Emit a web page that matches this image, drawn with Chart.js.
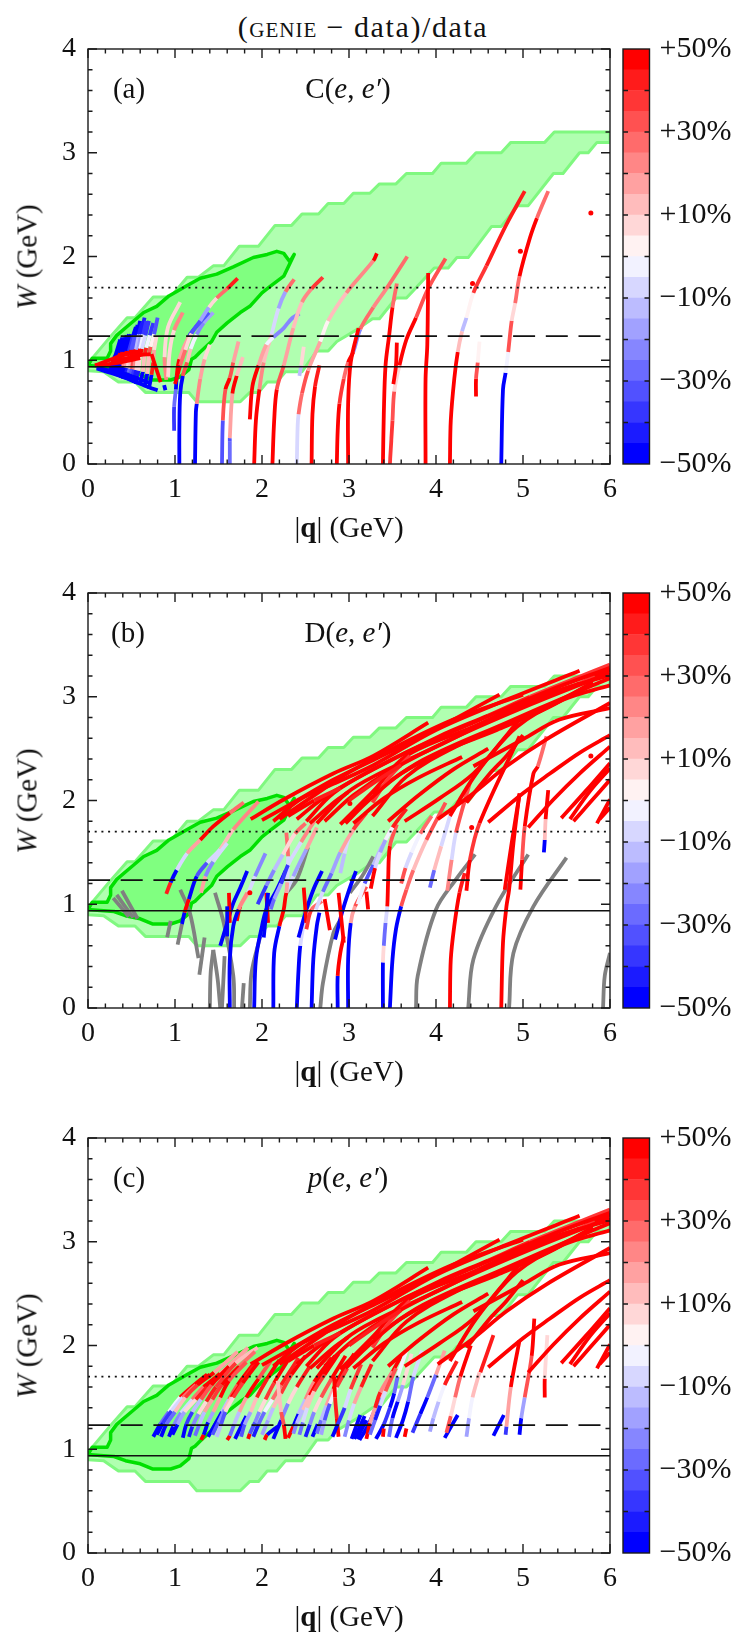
<!DOCTYPE html>
<html>
<head>
<meta charset="utf-8">
<style>
  html, body { margin: 0; padding: 0; background: #fff; }
  #page { position: relative; width: 746px; height: 1641px; overflow: hidden; }
  canvas { position: absolute; left: 0; }
  .t { position: absolute; transform: translate(-50%, -50%); white-space: nowrap; color: #111;
       font-family: "Liberation Serif", serif; font-size: 29px; line-height: 1; }
  .rot { transform: translate(-50%, -50%) rotate(-90deg); }
  .sc { font-variant: small-caps; letter-spacing: 1px; }
</style>
</head>
<body>
<div id="page">
  <div class="t" style="left:363px;top:27px;font-size:30px;letter-spacing:1.6px">(<span class="sc">genie</span> − data)/data</div>
</div>
<script src="https://cdn.jsdelivr.net/npm/chart.js@4"></script>
<script>
// |q| and W tick values
var xTicks = [0, 1, 2, 3, 4, 5, 6];
var yTicks = [0, 1, 2, 3, 4];
var xMinor = [0.2, 0.4, 0.6, 0.8, 1.2, 1.4, 1.6, 1.8, 2.2, 2.4, 2.6, 2.8, 3.2, 3.4, 3.6, 3.8, 4.2, 4.4, 4.6, 4.8, 5.2, 5.4, 5.6, 5.8];
var yMinor = [0.2, 0.4, 0.6, 0.8, 1.2, 1.4, 1.6, 1.8, 2.2, 2.4, 2.6, 2.8, 3.2, 3.4, 3.6, 3.8];

// resonance lines
var nucleonW = 0.938, deltaW = 1.232, highW = 1.7;

// colour bar
var barBands = [-50, -45, -40, -35, -30, -25, -20, -15, -10, -5, 0, 5, 10, 15, 20, 25, 30, 35, 40, 45];
var barLabels = { '50': '+50%', '30': '+30%', '10': '+10%', '-10': '−10%', '-30': '−30%', '-50': '−50%' };

// kinematic coverage, outer and inner region [q, W]
var outerRegion = [[0,0.97],[0.26,1.23],[0.45,1.41],[0.54,1.41],[0.75,1.61],[0.95,1.61],[1.14,1.8],[1.27,1.8],[1.44,1.91],[1.56,1.91],[1.74,2.1],[1.96,2.1],[2.15,2.3],[2.34,2.3],[2.46,2.41],[2.65,2.41],[2.76,2.51],[2.94,2.51],[3.05,2.61],[3.24,2.61],[3.35,2.7],[3.54,2.7],[3.66,2.8],[3.96,2.8],[4.06,2.9],[4.35,2.9],[4.46,3.0],[4.75,3.0],[4.86,3.1],[5.25,3.1],[5.36,3.2],[6,3.2],[6,3.1],[5.85,3.1],[5.75,3.0],[5.65,3.0],[5.46,2.8],[5.35,2.8],[5.06,2.49],[4.94,2.49],[4.75,2.29],[4.64,2.29],[4.37,1.99],[4.24,1.99],[4.14,1.89],[3.98,1.89],[3.76,1.69],[3.66,1.6],[3.54,1.6],[3.35,1.4],[3.27,1.4],[3.1,1.3],[2.86,1.18],[2.76,1.09],[2.63,1.09],[2.46,0.89],[2.27,0.89],[2.17,0.79],[2.06,0.79],[1.96,0.69],[1.86,0.69],[1.75,0.6],[1.25,0.6],[1.16,0.69],[0.66,0.69],[0.54,0.79],[0.35,0.79],[0.18,0.89],[0,0.9],[0,0.97]];
var innerRegion = [[0,0.95],[0.05,1.02],[0.22,1.02],[0.26,1.09],[0.26,1.16],[0.33,1.24],[0.47,1.34],[0.64,1.46],[0.79,1.52],[0.93,1.62],[1.14,1.72],[1.29,1.79],[1.48,1.83],[1.67,1.9],[1.9,1.99],[2.06,2.02],[2.17,2.05],[2.25,2.03],[2.32,1.95],[2.37,2.02],[2.25,1.81],[2.09,1.71],[2.0,1.65],[1.86,1.52],[1.75,1.46],[1.6,1.36],[1.48,1.27],[1.42,1.18],[1.29,1.08],[1.23,1.03],[1.19,1.01],[1.16,0.91],[1.06,0.84],[0.95,0.81],[0.74,0.81],[0.6,0.86],[0.43,0.89],[0.3,0.93],[0.14,0.94],[0,0.95]];

// (a) C(e,e'): each arc is a list of [q, W, percent]
var arcsC = [
  [[0.25,0.88,-50],[0.265,0.93,-50],[0.28,0.97,50],[0.3,1.02,-50],[0.32,1.06,-50],[0.37,1.2,-50]],
  [[0.275,0.87,-50],[0.29,0.93,-50],[0.3,0.98,50],[0.325,1.03,-50],[0.345,1.07,-50],[0.395,1.22,-50]],
  [[0.3,0.86,-50],[0.315,0.93,-50],[0.33,0.98,50],[0.35,1.03,50],[0.37,1.07,-50],[0.42,1.22,-50]],
  [[0.325,0.85,-50],[0.34,0.92,-50],[0.355,0.97,50],[0.375,1.03,50],[0.395,1.08,-50],[0.445,1.24,-50]],
  [[0.35,0.84,-50],[0.365,0.92,-50],[0.38,0.96,45],[0.4,1.03,50],[0.42,1.08,-50],[0.47,1.25,-50]],
  [[0.375,0.83,-50],[0.39,0.9,-50],[0.405,0.94,20],[0.425,1.04,50],[0.445,1.09,-50],[0.495,1.25,-50]],
  [[0.4,0.82,-50],[0.415,0.89,-50],[0.43,0.93,15],[0.45,1.04,50],[0.47,1.09,-40],[0.52,1.24,-50],[0.55,1.32,-40]],
  [[0.425,0.815,-50],[0.44,0.885,-45],[0.455,0.925,5],[0.475,1.04,50],[0.495,1.1,-35],[0.54,1.24,-50],[0.57,1.34,-25]],
  [[0.45,0.81,-50],[0.465,0.88,-30],[0.48,0.92,10],[0.5,1.04,50],[0.52,1.1,-35],[0.56,1.24,-50],[0.6,1.38,-50]],
  [[0.475,0.8,-50],[0.49,0.87,-35],[0.505,0.915,30],[0.525,1.05,50],[0.55,1.1,-15],[0.585,1.25,-45],[0.62,1.36,-25]],
  [[0.5,0.79,-50],[0.515,0.86,-40],[0.53,0.91,20],[0.55,1.05,50],[0.575,1.1,-20],[0.61,1.25,-45],[0.65,1.41,-50]],
  [[0.525,0.78,-50],[0.54,0.855,-45],[0.555,0.905,8],[0.575,1.05,45],[0.6,1.11,-5],[0.635,1.25,-40],[0.67,1.38,-15]],
  [[0.55,0.77,-50],[0.565,0.85,-45],[0.58,0.9,5],[0.6,1.05,50],[0.62,1.11,-10],[0.66,1.24,-40],[0.7,1.38,-8]],
  [[0.6,0.76,-50],[0.615,0.83,-50],[0.63,0.89,10],[0.65,1.05,40],[0.67,1.12,-5],[0.71,1.24,-40],[0.75,1.36,-15]],
  [[0.65,0.74,-50],[0.665,0.81,-50],[0.68,0.87,10],[0.7,1.05,30],[0.72,1.13,3],[0.76,1.25,-35],[0.8,1.41,-5]],
  [[0.7,0.725,-50],[0.715,0.79,-50],[0.73,0.86,40],[0.75,0.98,15],[0.76,1.1,5],[0.79,1.24,-18]],
  [[0.08,0.95,50],[0.3,1.02,50],[0.55,1.09,50]],
  [[0.08,0.95,50],[0.3,0.97,50],[0.6,1.02,50]],
  [[0.3,0.99,50],[0.6,1.05,50],[0.72,1.06,45]],
  [[0.1,0.92,-50],[0.4,0.84,-50],[0.7,0.74,-50],[0.8,0.71,-50]],
  [[0.1,0.93,-50],[0.4,0.87,-50],[0.72,0.78,-50]],
  [[0.3,0.9,-50],[0.55,0.83,-50]],
  [[0.73,1.06,50],[0.78,0.93,50],[0.835,0.79,50]],
  [[0.875,0.76,-50],[0.89,0.71,-50]],
  [[0.9,0.81,20],[0.88,1.03,5],[0.92,1.32,8],[1.06,1.56,50]],
  [[0.92,0.84,5],[0.94,1.09,5],[0.99,1.29,20],[1.09,1.46,30]],
  [[1.05,0,-50],[1.05,0.32,-50],[1.06,0.68,-50],[1.09,0.85,30],[1.14,0.98,10],[1.18,1.11,-5],[1.25,1.25,-25],[1.33,1.36,-20],[1.44,1.46,-12]],
  [[0.99,0.32,-40],[0.99,0.55,-30],[1.01,0.72,-50],[1.02,0.85,50],[1.05,1.01,15],[1.16,1.23,-40],[1.25,1.33,-35],[1.39,1.46,-25]],
  [[1.23,0,-50],[1.24,0.5,-50],[1.25,0.58,20],[1.29,0.82,15],[1.34,1.01,8],[1.4,1.15,15]],
  [[1.0,0.77,50],[1.06,0.95,25],[1.12,1.1,5],[1.19,1.26,-35],[1.29,1.38,-20],[1.39,1.51,5],[1.48,1.6,25],[1.6,1.69,40],[1.72,1.79,50]],
  [[1.54,0,-35],[1.55,0.42,30],[1.58,0.72,50],[1.63,0.83,30],[1.67,0.98,15],[1.73,1.18,10]],
  [[1.63,0,-30],[1.63,0.22,-35],[1.63,0.25,15],[1.66,0.68,45],[1.71,0.85,10],[1.78,1.03,12]],
  [[1.91,0,50],[1.93,0.42,50],[1.97,0.72,20],[2.02,0.98,12],[2.11,1.25,-8],[2.19,1.5,-20],[2.27,1.66,25],[2.37,1.78,40]],
  [[1.86,0.43,50],[1.89,0.75,50],[1.96,0.95,15],[2.05,1.15,-3],[2.13,1.22,-22],[2.25,1.31,-25],[2.34,1.4,-25],[2.43,1.45,-12]],
  [[2.12,0,50],[2.14,0.42,45],[2.17,0.72,30],[2.25,0.95,15],[2.36,1.31,10],[2.46,1.56,20],[2.57,1.69,35],[2.7,1.8,50]],
  [[2.43,0.85,-15],[2.45,0.95,5],[2.48,1.13,5]],
  [[2.4,0,-8],[2.41,0.37,-8],[2.42,0.48,25],[2.46,0.68,30],[2.53,0.9,15],[2.67,1.18,2],[2.76,1.38,12],[2.97,1.65,20],[3.28,1.96,45],[3.32,2.03,50]],
  [[2.57,0,50],[2.58,0.48,45],[2.61,0.75,40],[2.66,0.95,-5]],
  [[2.86,0,50],[2.87,0.32,45],[2.89,0.58,35],[2.94,0.82,25],[2.99,0.98,45],[3.05,1.08,-25],[3.13,1.3,25],[3.28,1.51,20],[3.43,1.69,25],[3.67,2.0,40]],
  [[2.99,0,50],[2.99,0.58,50],[3.02,0.98,50],[3.11,1.31,50]],
  [[3.39,0,50],[3.4,0.48,50],[3.42,0.95,50],[3.46,1.23,50],[3.5,1.51,25],[3.55,1.74,15]],
  [[3.47,0,35],[3.5,0.42,30],[3.52,0.7,8],[3.58,0.95,50],[3.66,1.2,45],[3.77,1.41,30],[3.91,1.69,30],[4.11,1.98,35]],
  [[3.51,0.77,50],[3.54,0.95,50],[3.55,1.17,30]],
  [[3.88,0,50],[3.88,0.82,50],[3.9,1.15,50],[3.91,1.84,50]],
  [[4.16,0,50],[4.17,0.42,50],[4.21,0.82,45],[4.25,1.08,12],[4.3,1.28,-15],[4.35,1.41,3],[4.43,1.65,35],[4.58,1.91,40],[4.81,2.31,40],[5.02,2.63,35]],
  [[4.46,0.65,50],[4.46,0.82,30],[4.48,0.98,3],[4.5,1.18,-20]],
  [[4.75,0,-50],[4.77,0.72,-50],[4.8,0.88,-3],[4.83,1.08,30],[4.87,1.38,5],[4.91,1.55,25],[4.96,1.81,50],[5.08,2.18,45],[5.16,2.37,25],[5.29,2.63,50]]
];
var dotsC = [[4.42,1.74],[4.97,2.05],[5.78,2.42]];

// long high-W arcs, seen on both D and p
var highArcs = [
  [[1.87,1.82,50],[2.25,2.01,50],[2.82,2.26,50],[3.28,2.43,50],[3.91,2.75,50]],
  [[2.0,1.81,50],[2.36,1.98,50],[2.82,2.2,50],[3.28,2.39,50],[3.91,2.65,50],[4.73,3.02,50]],
  [[2.13,1.8,50],[2.44,2.01,50],[2.82,2.16,50],[3.28,2.34,50],[4.0,2.68,50],[4.81,2.97,50],[5.65,3.25,50]],
  [[2.51,1.8,50],[2.82,2.07,50],[3.28,2.3,50],[4.04,2.62,50],[4.6,2.82,40],[5.08,3.0,38],[6,3.31,50]],
  [[2.63,1.78,50],[2.97,2.07,50],[3.28,2.23,50],[4.08,2.55,50],[4.96,2.91,50],[5.65,3.13,35],[5.82,3.2,50],[6,3.26,50]],
  [[2.9,1.77,50],[3.28,2.09,50],[3.66,2.43,50],[4.43,2.71,50],[5.19,3.0,50],[6,3.21,50]],
  [[3.27,2.07,50],[3.85,2.39,50],[4.81,2.75,50],[5.58,3.03,50],[6,3.18,50]],
  [[3.64,1.8,50],[4.04,2.02,50],[4.43,2.26,50],[4.93,2.71,50],[5.46,2.97,50],[6,3.11,50]],
  [[3.27,1.85,50],[3.66,2.23,50],[4.23,2.52,50],[4.96,2.78,50],[5.81,3.13,50]],
  [[4.02,1.82,50],[4.43,2.07,50],[4.81,2.33,50],[5.27,2.59,50],[6,2.94,50]],
  [[4.6,1.79,50],[5.0,2.07,50],[5.31,2.26,50],[5.65,2.46,50],[6,2.63,50]],
  [[5.06,1.74,50],[5.35,2.01,50],[5.65,2.26,50],[6,2.52,50]],
  [[4.43,2.33,50],[5.0,2.59,50],[5.42,2.78,50],[6,2.89,50]],
  [[5.44,1.83,50],[5.73,2.1,50],[6,2.36,50]],
  [[5.54,1.82,50],[5.77,2.09,50],[6,2.31,50]],
  [[5.58,1.8,50],[5.77,1.98,50],[6,2.2,50]],
  [[5.85,1.78,50],[6,2.01,50]],
  [[5.88,1.82,50],[6,1.93,50]],
  [[4.16,1.85,50],[4.39,2.17,50],[4.58,2.39,50],[4.96,2.78,50]],
  [[4.35,1.98,50],[4.62,2.26,50],[4.81,2.43,50],[5.0,2.63,50]],
  [[2.55,1.78,50],[2.84,1.99,50],[2.99,2.08,50]],
  [[3.27,1.98,35],[3.47,2.23,35],[3.7,2.43,30]],
  [[2.2,1.82,50],[2.6,2.05,50],[3.0,2.27,50],[3.5,2.5,50],[4.2,2.78,50],[5.0,3.02,50]],
  [[2.4,1.82,50],[2.7,2.02,50],[3.1,2.22,50],[3.6,2.44,50],[4.4,2.74,50],[5.3,3.06,50],[6,3.28,50]],
  [[2.72,1.8,50],[3.05,2.05,50],[3.5,2.3,50],[4.2,2.6,50],[5.1,2.93,50],[6,3.23,50]],
  [[2.96,1.78,50],[3.2,1.98,50],[3.6,2.26,50],[4.1,2.48,50],[4.7,2.68,50],[5.3,2.9,50],[5.8,3.14,50]],
  [[3.05,1.78,50],[3.4,2.02,50],[3.8,2.22,50],[4.3,2.42,50]],
  [[3.45,1.8,50],[3.8,2.05,50],[4.2,2.3,50],[4.6,2.5,50]],
  [[2.3,1.85,45],[2.6,2.0,40],[2.9,2.12,50]],
  [[3.0,2.0,40],[3.3,2.18,40],[3.6,2.34,30]]
];

// (b) D(e,e'), arcs with a percent and arcs without one
var arcsD = [
  [[0.9,1.1,40],[0.95,1.21,-50],[1.02,1.33,-8],[1.14,1.49,15],[1.29,1.62,50],[1.44,1.75,50],[1.63,1.88,25],[1.79,1.98,12]],
  [[1.08,0.81,-50],[1.11,0.92,50],[1.16,1.05,-50],[1.25,1.27,-35],[1.37,1.4,-10],[1.52,1.53,12],[1.67,1.72,20],[1.96,1.99,8]],
  [[1.3,1.11,15],[1.35,1.27,-25],[1.44,1.41,-10],[1.6,1.59,3]],
  [[1.71,0.84,50],[1.75,0.98,15],[1.84,1.11,-8],[1.92,1.27,-25],[2.04,1.49,-20]],
  [[1.52,0.6,-50],[1.6,0.82,-50],[1.67,1.01,-50],[1.75,1.16,-50],[1.83,1.32,-50]],
  [[1.62,1.11,50],[1.63,0.82,50]],
  [[1.6,0.69,-50],[1.6,0.98,-50]],
  [[1.63,0,-50],[1.63,0.47,-50],[1.67,0.79,-50],[1.73,0.95,20],[1.83,1.11,-10]],
  [[1.91,0,-50],[1.93,0.47,-50],[2.0,0.79,-50],[2.05,0.95,-50],[2.17,1.14,-50],[2.27,1.32,-50]],
  [[2.13,0,-50],[2.14,0.53,-50],[2.2,0.79,50],[2.25,0.95,50],[2.28,1.11,-10],[2.36,1.27,-20],[2.51,1.53,15],[2.63,1.74,35]],
  [[2.05,1.11,50],[2.07,0.82,50]],
  [[2.02,0.68,-50],[2.07,1.11,-50]],
  [[2.28,1.69,25],[2.3,1.46,-8],[2.29,1.21,15],[2.28,1.11,25]],
  [[2.4,0,-50],[2.42,0.37,-50],[2.44,0.6,-8],[2.5,0.92,-50]],
  [[2.42,0.68,-50],[2.5,0.92,-50],[2.59,1.14,-50],[2.69,1.32,-50]],
  [[2.48,1.16,50],[2.51,0.82,50]],
  [[2.57,0,-50],[2.59,0.47,-50],[2.63,0.79,-50],[2.66,0.92,30]],
  [[2.51,0.76,35],[2.57,0.95,25],[2.69,1.03,50]],
  [[2.84,0.66,-50],[2.92,0.92,-50],[2.99,1.11,-50],[3.08,1.32,-50]],
  [[2.88,1.11,50],[2.94,0.63,50]],
  [[2.87,0,-50],[2.87,0.31,50],[2.9,0.53,50],[2.94,0.69,50]],
  [[2.99,0,-50],[2.99,0.47,-50],[3.02,0.82,15],[3.07,0.98,30],[3.2,1.17,50]],
  [[2.9,1.3,-15],[2.95,1.49,-8],[3.01,1.66,10],[3.15,1.83,30]],
  [[3.39,0,-50],[3.39,0.44,5],[3.4,0.6,-30],[3.42,0.82,-10],[3.44,0.98,50],[3.45,1.24,50],[3.47,1.56,30],[3.55,1.77,40]],
  [[3.47,0,-50],[3.5,0.47,-50],[3.54,0.76,-50],[3.6,0.98,30],[3.66,1.14,25],[3.74,1.33,10],[3.89,1.62,30],[4.11,1.98,40]],
  [[3.93,1.16,-30],[3.98,1.33,10],[4.06,1.56,-8],[4.16,1.85,30]],
  [[4.16,0,50],[4.17,0.47,50],[4.21,0.79,50],[4.27,1.11,40],[4.33,1.3,20]],
  [[4.13,1.13,20],[4.18,1.43,-8],[4.23,1.69,30],[4.39,2.17,50]],
  [[4.35,1.13,50],[4.39,1.43,35],[4.5,1.78,50],[4.96,2.62,50]],
  [[4.75,0,50],[4.77,0.63,50],[4.81,0.98,50],[4.84,1.14,50],[4.89,1.59,50],[4.96,2.07,50]],
  [[4.79,1.14,50],[4.87,1.59,50],[4.96,2.06,50]],
  [[4.97,1.14,50],[4.99,1.43,30],[5.02,1.75,50],[5.12,2.26,50],[5.17,2.33,25],[5.27,2.62,50]],
  [[5.24,1.5,-50],[5.25,1.62,10],[5.26,1.82,50],[5.29,2.1,50]],
  [[2.1,0.95,-30],[2.14,1.05,-20],[2.22,1.2,-40],[2.3,1.38,-10],[2.45,1.6,20],[2.6,1.8,40]],
  [[1.95,1.0,-40],[2.05,1.18,-25],[2.14,1.33,-15],[2.24,1.48,5],[2.38,1.68,25],[2.5,1.78,40]],
  [[2.62,0.95,-10],[2.7,1.12,-30],[2.8,1.3,-20],[2.9,1.5,15],[3.05,1.72,35],[3.2,1.88,50]],
  [[3.1,1.0,-5],[3.18,1.2,-35],[3.28,1.38,-15],[3.38,1.56,10],[3.5,1.74,40],[3.66,1.92,50]],
  [[2.72,1.05,50],[2.75,0.9,50],[2.78,0.75,30]],
  [[3.2,1.12,50],[3.22,0.95,40]],
  [[3.25,1.15,50],[3.3,1.35,-10],[3.36,1.5,-20],[3.42,1.62,-5],[3.5,1.74,25]],
  [[3.6,1.2,30],[3.65,1.35,-10],[3.72,1.5,-5],[3.82,1.68,25],[3.95,1.85,45]]
].concat(highArcs);
var grayArcsD = [
  [[0.29,1.06],[0.47,0.88]], [[0.33,1.09],[0.52,0.87]], [[0.39,1.13],[0.57,0.86]],
  [[0.91,0.68],[0.95,0.84]], [[1.03,0.61],[1.08,0.81]], [[1.06,1.14],[1.17,0.92],[1.27,0.48]],
  [[1.28,0.32],[1.34,0.68]], [[1.46,1.11],[1.56,0.82],[1.67,0.31],[1.68,0]],
  [[1.4,0],[1.41,0.34],[1.44,0.56]], [[1.44,0.56],[1.49,0.28],[1.52,0]], [[1.54,0],[1.57,0.5]],
  [[1.77,0],[1.79,0.24]], [[1.86,0],[1.88,0.34],[1.98,0.69]],
  [[2.67,0],[2.7,0.24],[2.82,0.72],[2.9,0.85]], [[2.28,1.11],[2.4,1.24],[2.53,1.55]],
  [[3.01,1.11],[3.15,1.27],[3.28,1.46]],
  [[3.77,0],[3.79,0.31],[4.0,0.95],[4.23,1.24],[4.45,1.48]],
  [[4.37,0],[4.43,0.47],[4.69,0.98],[5.06,1.48]],
  [[4.84,0],[4.89,0.53],[5.12,0.98],[5.5,1.45]],
  [[5.92,0],[5.94,0.31],[6,0.53]]
];
var dotsD = [[3.01,1.97],[4.41,1.74],[5.78,2.43],[3.81,2.36],[1.86,1.11]];

// (c) p(e,e')
var arcsP = [
  [[0.75,1.12,-50],[0.83,1.24,-30],[0.93,1.36,-5],[1.06,1.5,45],[1.22,1.62,50],[1.37,1.72,50]],
  [[0.79,1.14,-50],[0.86,1.25,-40],[0.96,1.37,-10],[1.09,1.5,25],[1.24,1.62,50],[1.4,1.72,45]],
  [[0.84,1.12,-50],[0.9,1.24,-30],[1.0,1.36,10],[1.12,1.5,35],[1.26,1.62,50],[1.45,1.74,15],[1.72,1.94,-15]],
  [[0.93,1.12,-50],[0.98,1.22,-25],[1.07,1.35,-8],[1.2,1.48,25],[1.33,1.6,45],[1.52,1.73,15],[1.84,1.98,-8]],
  [[0.97,1.14,-50],[1.03,1.24,-20],[1.11,1.36,5],[1.24,1.48,40],[1.37,1.6,50],[1.56,1.74,25],[1.78,1.92,12]],
  [[1.09,1.11,-50],[1.13,1.24,-40],[1.2,1.36,-12],[1.3,1.48,30],[1.42,1.62,50],[1.62,1.8,18],[1.82,1.96,10]],
  [[1.16,1.12,-45],[1.2,1.22,-25],[1.27,1.34,5],[1.36,1.46,40],[1.47,1.6,35],[1.7,1.83,12],[1.95,1.98,20]],
  [[1.23,1.13,-30],[1.28,1.24,-15],[1.34,1.36,15],[1.43,1.48,35],[1.54,1.62,45],[1.74,1.8,25],[1.92,1.94,15]],
  [[1.3,1.09,50],[1.33,1.14,-50],[1.38,1.26,-20],[1.44,1.36,15],[1.52,1.5,45],[1.62,1.66,30],[1.82,1.84,50]],
  [[1.38,1.12,-50],[1.46,1.24,-50],[1.54,1.36,-15],[1.62,1.48,30],[1.72,1.62,50],[1.9,1.82,40]],
  [[1.43,1.14,-35],[1.5,1.26,-25],[1.57,1.38,10],[1.65,1.5,45],[1.75,1.62,40],[1.93,1.84,45]],
  [[1.48,1.12,-15],[1.53,1.24,-35],[1.58,1.36,5],[1.67,1.5,35],[1.78,1.64,45],[1.96,1.84,30]],
  [[1.6,1.09,50],[1.63,1.13,-30],[1.68,1.24,-15],[1.74,1.36,15],[1.82,1.5,50],[1.96,1.68,30],[2.1,1.85,50]],
  [[1.69,1.1,-50],[1.82,1.32,-50]],
  [[1.76,1.12,-35],[1.8,1.24,-20],[1.87,1.36,10],[1.94,1.5,40],[2.06,1.68,50],[2.2,1.86,40]],
  [[1.84,1.1,50],[1.86,1.15,-35],[1.92,1.26,-25],[1.97,1.36,5],[2.04,1.48,35],[2.14,1.64,50],[2.3,1.86,30]],
  [[1.9,1.12,-45],[1.96,1.24,-30],[2.03,1.36,-5],[2.12,1.48,25],[2.22,1.62,40],[2.42,1.88,50]],
  [[2.03,1.09,50],[2.06,1.14,-50],[2.18,1.22,-40]],
  [[2.0,1.14,-20],[2.07,1.28,-15],[2.13,1.4,10],[2.22,1.54,35],[2.34,1.72,50],[2.5,1.9,40]],
  [[2.13,1.1,-50],[2.22,1.28,-25],[2.3,1.44,5],[2.4,1.6,40],[2.55,1.8,50]],
  [[2.27,1.1,50],[2.25,1.24,30],[2.22,1.36,10],[2.18,1.66,35]],
  [[2.3,1.11,50],[2.36,1.22,-50],[2.42,1.34,-15],[2.5,1.48,20],[2.6,1.65,50],[2.8,1.88,30]],
  [[2.36,1.15,-25],[2.4,1.25,-15],[2.47,1.38,10],[2.55,1.52,45],[2.66,1.68,45],[2.84,1.9,50]],
  [[2.43,1.14,-30],[2.47,1.26,-10],[2.52,1.4,10],[2.6,1.56,35],[2.72,1.72,45],[2.88,1.92,50]],
  [[2.5,1.12,-45],[2.55,1.24,-25],[2.6,1.36,5],[2.68,1.5,30],[2.8,1.68,50],[2.96,1.9,50]],
  [[2.58,1.12,-50],[2.64,1.24,-50]],
  [[2.63,1.15,-30],[2.68,1.28,-15],[2.74,1.42,15],[2.82,1.58,45],[2.92,1.74,50],[3.06,1.92,50]],
  [[2.68,1.14,-20],[2.72,1.28,-35],[2.78,1.44,-5],[2.86,1.6,35],[2.98,1.78,50]],
  [[2.88,1.12,50],[2.86,1.3,40],[2.84,1.5,50],[2.83,1.7,10]],
  [[2.81,1.12,-50],[2.87,1.24,-40],[2.95,1.4,-10],[3.02,1.58,35],[3.14,1.82,50]],
  [[2.95,1.12,-25],[3.0,1.28,-10],[3.06,1.44,15],[3.14,1.6,40],[3.26,1.82,50]],
  [[3.03,1.1,-50],[3.13,1.33,-50]],
  [[3.06,1.1,-50],[3.18,1.32,-50]],
  [[3.09,1.1,-50],[3.2,1.28,-50]],
  [[3.12,1.09,-50],[3.2,1.2,-50],[3.3,1.38,-25],[3.36,1.5,10],[3.46,1.68,45],[3.6,1.9,50]],
  [[3.2,1.1,50],[3.24,1.25,15],[3.3,1.4,40],[3.36,1.55,20],[3.5,1.75,50]],
  [[3.24,1.14,-30],[3.3,1.28,-45],[3.36,1.42,-10],[3.42,1.56,30],[3.54,1.78,50]],
  [[3.31,1.1,-50],[3.4,1.24,-40],[3.47,1.4,-50],[3.52,1.54,-30],[3.56,1.7,-5],[3.66,1.95,45]],
  [[3.39,1.12,50],[3.4,1.2,40]],
  [[3.46,1.12,-30],[3.5,1.3,-50],[3.56,1.46,-20],[3.62,1.62,5],[3.72,1.92,50]],
  [[3.54,1.11,-50],[3.62,1.28,-50],[3.68,1.46,-30],[3.74,1.7,-8],[3.84,1.95,45]],
  [[3.64,1.12,50],[3.66,1.2,30]],
  [[3.73,1.16,-40],[3.82,1.34,-50],[3.9,1.5,-30],[4.0,1.72,15],[4.1,1.95,50]],
  [[3.93,1.17,-20],[3.97,1.3,-15],[4.03,1.46,-5],[4.1,1.62,40],[4.24,1.85,50]],
  [[4.1,1.11,-50],[4.25,1.33,-50]],
  [[4.12,1.16,30],[4.17,1.32,5],[4.22,1.5,25],[4.28,1.7,50],[4.4,2.0,50]],
  [[4.35,1.12,-20],[4.38,1.3,-5],[4.42,1.5,10],[4.5,1.74,50]],
  [[4.51,1.74,40],[4.66,2.1,50]],
  [[4.66,1.13,-50],[4.78,1.33,-50]],
  [[4.8,1.14,-40],[4.81,1.22,15],[4.86,1.6,50],[4.96,2.05,50]],
  [[4.96,1.14,-50],[4.98,1.3,-20],[5.02,1.5,30],[5.1,1.9,50],[5.13,2.26,50]],
  [[5.25,1.5,50],[5.25,1.68,5],[5.28,2.1,50]]
].concat(highArcs);

// blue to white to red, 20 flat levels
function bandColor(pct) {
  var i = Math.min(19, Math.floor((pct + 50) / 5));
  var g = Math.round(255 * (1 - Math.abs(2 * i / 19 - 1)));
  return i >= 10 ? 'rgb(255,' + g + ',' + g + ')' : 'rgb(' + g + ',' + g + ',255)';
}

// ticks point inward on all four sides, so draw them ourselves
var frameTicks = {
  id: 'frameTicks',
  afterDatasetsDraw: function (chart, args, opts) {
    var c = chart.ctx, a = chart.chartArea;
    c.save();
    c.strokeStyle = '#1a1a1a';
    c.lineWidth = 1.4;
    function vert(list, len) {
      list.forEach(function (v) {
        var p = chart.scales.x.getPixelForValue(v);
        c.beginPath(); c.moveTo(p, a.bottom); c.lineTo(p, a.bottom - len);
        c.moveTo(p, a.top); c.lineTo(p, a.top + len); c.stroke();
      });
    }
    function horiz(list, len) {
      list.forEach(function (v) {
        var p = chart.scales.y.getPixelForValue(v);
        c.beginPath(); c.moveTo(a.left, p); c.lineTo(a.left + len, p);
        c.moveTo(a.right, p); c.lineTo(a.right - len, p); c.stroke();
      });
    }
    if (opts.xMajor) { vert(opts.xMajor, 9); vert(opts.xMinor, 4.5); }
    horiz(opts.yMajor, opts.majorLen);
    if (opts.yMinor) horiz(opts.yMinor, 4.5);
    c.strokeRect(a.left, a.top, a.right - a.left, a.bottom - a.top);
    c.restore();
  }
};

var tickFont = { family: '"Liberation Serif", serif', size: 28 };
var plotLeft = 88, plotRight = 610, plotHeight = 415, extraBelow = 70, extraAbove = 20;

function noOverhang(s) {
  s.paddingTop = s.paddingBottom = s.paddingLeft = s.paddingRight = 0;
}

function arcDataset(arc) {
  return {
    data: arc.map(function (p) { return { x: p[0], y: p[1], e: p[2] }; }),
    showLine: true, pointRadius: 0, borderWidth: 3.8, borderCapStyle: 'butt', tension: 0.35,
    borderColor: '#808080',
    segment: {
      borderColor: function (ctx) {
        var e = ctx.chart.data.datasets[ctx.datasetIndex].data[ctx.p0DataIndex].e;
        return e === undefined ? '#808080' : bandColor(e);
      }
    }
  };
}
function regionDataset(points, fillColor, lineColor, width) {
  return {
    data: points.map(function (p) { return { x: p[0], y: p[1] }; }),
    showLine: true, pointRadius: 0, tension: 0, fill: 'shape', borderWidth: width,
    backgroundColor: fillColor, borderColor: lineColor, borderJoinStyle: 'round'
  };
}
function hLine(w, dash, width) {
  return {
    data: [{ x: xTicks[0], y: w }, { x: xTicks[xTicks.length - 1], y: w }],
    showLine: true, pointRadius: 0, borderWidth: width, borderColor: '#111', borderDash: dash
  };
}
function dotsDataset(dots) {
  return {
    data: dots.map(function (p) { return { x: p[0], y: p[1] }; }),
    showLine: false, pointRadius: 2.5, pointBorderWidth: 0, pointBackgroundColor: 'rgb(255,0,0)'
  };
}

function addText(html, left, top, cls) {
  var d = document.createElement('div');
  d.className = 't' + (cls ? ' ' + cls : '');
  d.style.left = left + 'px';
  d.style.top = top + 'px';
  d.innerHTML = html;
  document.getElementById('page').appendChild(d);
}

function addCanvas(top, left, width, height) {
  var cv = document.createElement('canvas');
  cv.width = width; cv.height = height;
  cv.style.top = top + 'px'; cv.style.left = left + 'px';
  cv.style.width = width + 'px'; cv.style.height = height + 'px';
  document.getElementById('page').appendChild(cv);
  return cv;
}

function drawPanel(top, arcs, dots, gray) {
  // datasets in paint order, Chart.js paints the last index first
  var sets = [regionDataset(outerRegion, 'rgb(176,255,176)', 'rgb(128,248,128)', 3),
              regionDataset(innerRegion, 'rgb(128,255,128)', 'rgb(0,224,0)', 3.5)];
  (gray || []).forEach(function (a) { sets.push(arcDataset(a)); });
  arcs.forEach(function (a) { sets.push(arcDataset(a)); });
  sets.push(dotsDataset(dots));
  sets.push(hLine(nucleonW, [], 1.6));
  sets.push(hLine(deltaW, [22, 10.7], 1.8));
  sets.push(hLine(highW, [2, 4.7], 1.8));
  sets.reverse();

  var canvasTop = top - extraAbove;
  new Chart(addCanvas(canvasTop, 0, plotRight + 14, plotHeight + extraAbove + extraBelow), {
    type: 'scatter',
    data: { datasets: sets },
    plugins: [frameTicks],
    options: {
      responsive: false, animation: false, events: [],
      layout: { padding: { top: extraAbove, right: 14, left: 0, bottom: 0 } },
      plugins: {
        legend: { display: false }, tooltip: { enabled: false },
        frameTicks: { xMajor: xTicks, xMinor: xMinor, yMajor: yTicks, yMinor: yMinor, majorLen: 9 }
      },
      scales: {
        x: {
          type: 'linear', min: 0, max: 6,
          grid: { display: false, drawTicks: false }, border: { display: false },
          ticks: { stepSize: 1, font: tickFont, color: '#111', padding: 9, maxRotation: 0 },
          afterFit: function (s) { s.height = extraBelow; noOverhang(s); }
        },
        y: {
          type: 'linear', min: 0, max: 4,
          grid: { display: false, drawTicks: false }, border: { display: false },
          ticks: { stepSize: 1, font: tickFont, color: '#111', padding: 12 },
          afterFit: function (s) { s.width = plotLeft; noOverhang(s); }
        }
      }
    }
  });

  // colour bar
  new Chart(addCanvas(canvasTop, 610, 136, plotHeight + extraAbove + extraBelow), {
    type: 'bar',
    data: {
      labels: [''],
      datasets: barBands.map(function (b) {
        return { data: [[b, b + 5]], backgroundColor: bandColor(b), borderWidth: 0, grouped: false,
                 barPercentage: 1, categoryPercentage: 1 };
      })
    },
    plugins: [frameTicks],
    options: {
      responsive: false, animation: false, events: [],
      layout: { padding: { top: extraAbove, left: 13, right: 0, bottom: extraBelow } },
      plugins: {
        legend: { display: false }, tooltip: { enabled: false },
        frameTicks: { yMajor: [-40, -30, -20, -10, 0, 10, 20, 30, 40], majorLen: 5 }
      },
      scales: {
        x: { display: false },
        y: {
          position: 'right', min: -50, max: 50,
          grid: { display: false, drawTicks: false }, border: { display: false },
          ticks: { stepSize: 10, autoSkip: false, font: { family: tickFont.family, size: 30 }, color: '#111', padding: 10,
                   callback: function (v) { return barLabels[v] || ''; } },
          afterFit: function (s) { s.width = 96.5; noOverhang(s); }
        }
      }
    }
  });

  // axis titles
  addText('|<b>q</b>| (GeV)', 349, top + 478);
  addText('<i>W</i> (GeV)', 27, top + 208, 'rot');
}

drawPanel(48.5, arcsC, dotsC);
drawPanel(593, arcsD, dotsD, grayArcsD);
drawPanel(1137.5, arcsP, []);

addText('(a)', 129, 88);
addText('C(<i>e</i>, <i>e′</i>)', 348, 88);
addText('(b)', 128, 632);
addText('D(<i>e</i>, <i>e′</i>)', 348, 632);
addText('(c)', 129, 1177);
addText('<i>p</i>(<i>e</i>, <i>e′</i>)', 348, 1177);
</script>
</body>
</html>
